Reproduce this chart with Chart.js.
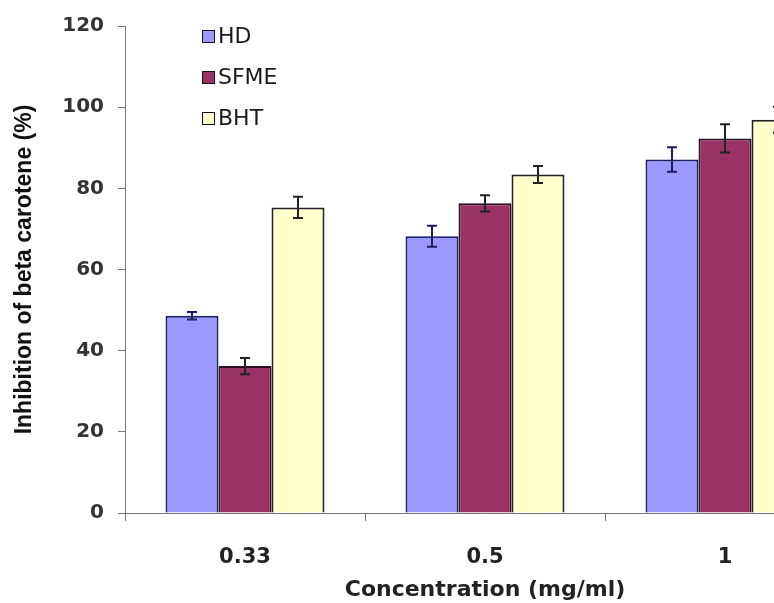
<!DOCTYPE html>
<html>
<head>
<meta charset="utf-8">
<script src="https://cdn.jsdelivr.net/npm/chart.js@4.4.0/dist/chart.umd.min.js"></script>
<style>
    html, body { margin: 0; padding: 0; background: #fff; overflow: hidden; }
    #wrap { position: relative; width: 860px; height: 603px; }
    #legend { position: absolute; left: 202px; top: 27px; font-family: "DejaVu Sans", sans-serif; font-size: 22px; color: #1a1a1a; }
    #legend div { height: 41px; display: flex; align-items: flex-start; }
    #legend span.box { display: inline-block; width: 11px; height: 11px; border: 1px solid #111; margin-top: 3px; margin-right: 3px; }
    #legend span.txt { line-height: 17px; }
</style>
</head>
<body>
<div id="wrap">
    <canvas id="chart"></canvas>
    <div id="legend"></div>
</div>
<script>
// values
const concentrations = ['0.33', '0.5', '1'];
const hdValues = [48.6, 68.2, 87.1];
const sfmeValues = [36.2, 76.3, 92.3];
const bhtValues = [75.3, 83.4, 96.9];
const hdErrors = [0.9, 2.6, 3.0];
const sfmeErrors = [2.0, 2.0, 3.5];
const bhtErrors = [2.6, 2.1, 3.2];
const yTicks = [0, 20, 40, 60, 80, 100, 120];

const series = [
    { label: 'HD', data: hdValues, err: hdErrors, fill: '#9999FF', border: '#1c1c70', errColor: '#1c1c60' },
    { label: 'SFME', data: sfmeValues, err: sfmeErrors, fill: '#993366', border: '#2a1020', errColor: '#222' },
    { label: 'BHT', data: bhtValues, err: bhtErrors, fill: '#FFFFCC', border: '#222', errColor: '#222' }
];

// error bars drawn on top of the bars
const errorBars = {
    id: 'errorBars',
    afterDatasetsDraw(chart) {
        const ctx = chart.ctx;
        const y = chart.scales.y;
        series.forEach((s, i) => {
            const meta = chart.getDatasetMeta(i);
            meta.data.forEach((bar, j) => {
                const top = y.getPixelForValue(s.data[j] + s.err[j]);
                const bot = y.getPixelForValue(s.data[j] - s.err[j]);
                ctx.save();
                ctx.strokeStyle = s.errColor;
                ctx.lineWidth = 2;
                ctx.beginPath();
                ctx.moveTo(bar.x, top);
                ctx.lineTo(bar.x, bot);
                ctx.moveTo(bar.x - 5, top);
                ctx.lineTo(bar.x + 5, top);
                ctx.moveTo(bar.x - 5, bot);
                ctx.lineTo(bar.x + 5, bot);
                ctx.stroke();
                ctx.restore();
            });
        });
    }
};

const ctx = document.getElementById('chart').getContext('2d');
new Chart(ctx, {
    type: 'bar',
    data: {
        labels: concentrations,
        datasets: series.map(s => ({
            label: s.label,
            data: s.data,
            backgroundColor: s.fill,
            borderColor: s.border,
            borderWidth: 2,
            categoryPercentage: 0.6625,
            barPercentage: 1
        }))
    },
    options: {
        responsive: true,
        maintainAspectRatio: false,
        animation: false,
        layout: { padding: { top: 24, right: 15, left: 0, bottom: 0 } },
        plugins: {
            legend: { display: false },
            tooltip: { enabled: false }
        },
        scales: {
            x: {
                afterFit: (scale) => { scale.height = 90; },
                border: { color: '#777', width: 1 },
                grid: { drawOnChartArea: false, tickLength: 8, color: '#777' },
                ticks: {
                    color: '#222',
                    padding: 24,
                    font: { family: 'DejaVu Sans', weight: 'bold', size: 21 }
                },
                title: {
                    display: true,
                    text: 'Concentration (mg/ml)',
                    color: '#222',
                    padding: { top: 0, bottom: 0 },
                    font: { family: 'DejaVu Sans', weight: 'bold', size: 22 }
                }
            },
            y: {
                min: 0,
                max: 120,
                afterFit: (scale) => { scale.width = 125; },
                afterBuildTicks: (scale) => { scale.ticks = yTicks.map(v => ({ value: v })); },
                border: { color: '#777', width: 1 },
                grid: { drawOnChartArea: false, tickLength: 7, color: '#777' },
                ticks: {
                    color: '#333',
                    padding: 14,
                    font: { family: 'DejaVu Sans', weight: 'bold', size: 20 }
                },
                title: {
                    display: true,
                    text: 'Inhibition of beta carotene (%)',
                    color: '#111',
                    padding: { top: 11, bottom: 0 },
                    font: { family: 'Liberation Sans', weight: 'bold', size: 23 }
                }
            }
        }
    },
    plugins: [errorBars]
});

// legend inside the plot, top left
const legend = document.getElementById('legend');
series.forEach(s => {
    const row = document.createElement('div');
    row.innerHTML = '<span class="box" style="background:' + s.fill + '"></span><span class="txt">' + s.label + '</span>';
    legend.appendChild(row);
});
</script>
</body>
</html>
